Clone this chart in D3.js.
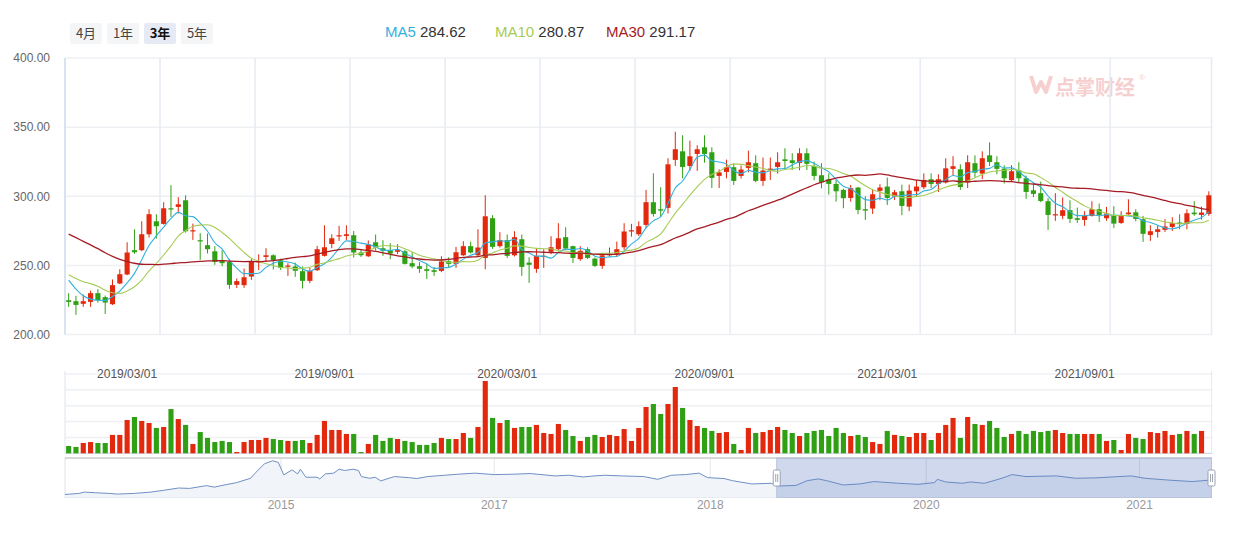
<!DOCTYPE html>
<html>
<head>
<meta charset="utf-8">
<script src="https://cdnjs.cloudflare.com/ajax/libs/d3/7.8.5/d3.min.js"></script>
<style>
body {margin: 0; background: #fff;}
svg {display: block; font-family: "Liberation Sans", "Noto Sans CJK SC", sans-serif;}
</style>
</head>
<body>
<svg id="chart" width="1238" height="538"></svg>
<script>
// weekly candles (one entry per week, oldest first)
const opens = [
  224.8,224.1,222.2,223.6,229.9,227.0,221.9,236.9,243.4,261.0,
  261.0,272.5,281.9,280.0,291.3,292.3,297.1,274.7,268.2,264.6,
  260.2,253.7,252.5,235.9,235.7,241.9,252.3,256.1,257.3,253.7,
  249.2,249.2,245.8,238.8,246.5,256.9,265.5,271.1,271.3,271.8,
  259.3,256.6,266.7,262.4,261.0,259.8,260.2,251.6,249.4,247.2,
  246.5,246.0,253.0,251.1,257.3,263.9,257.3,255.4,284.1,263.9,
  268.2,257.3,268.9,252.0,247.5,256.6,259.8,261.7,270.4,263.9,
  254.5,261.7,254.9,249.6,257.3,258.3,263.1,274.5,272.5,279.3,
  295.7,290.6,291.6,326.3,332.5,321.9,330.6,335.4,331.8,314.7,
  317.6,321.0,314.7,320.5,323.9,311.1,319.0,321.2,326.7,326.0,
  324.1,331.1,321.9,315.2,312.3,308.9,304.6,298.8,306.3,290.6,
  291.1,303.9,307.0,299.8,303.6,292.5,303.6,306.5,312.3,308.9,
  309.9,319.8,319.5,309.9,323.9,316.4,329.6,324.6,320.0,311.6,
  318.8,313.0,304.3,302.2,296.4,286.5,285.8,289.9,284.1,282.9,
  285.8,290.6,284.1,286.5,280.7,287.0,288.4,283.4,272.0,274.2,
  275.7,277.8,281.0,280.0,288.2,286.5,287.2
];
const closes = [
  223.6,221.4,224.1,229.9,224.8,223.1,235.7,243.6,259.3,259.5,
  272.5,287.0,278.3,291.3,290.8,294.2,274.7,275.4,267.5,261.7,
  252.5,251.6,235.9,238.6,241.4,252.5,253.0,257.3,253.7,248.2,
  249.9,246.1,238.8,246.0,261.7,263.1,269.6,271.8,272.5,259.3,
  257.3,265.1,262.9,260.5,258.6,261.0,251.1,249.2,247.5,246.0,
  245.3,252.8,251.1,259.5,263.9,259.3,262.9,285.5,263.4,268.2,
  256.9,270.4,248.9,250.4,256.9,256.9,263.1,269.6,262.2,255.4,
  260.5,255.4,249.6,257.3,258.1,261.7,274.5,275.4,278.3,295.7,
  287.2,289.6,323.1,334.0,321.2,328.9,334.0,330.6,313.3,317.3,
  321.0,311.1,319.3,324.6,311.1,318.6,320.0,324.6,325.5,324.1,
  331.1,323.4,314.7,310.1,308.9,303.6,298.6,305.8,290.1,289.6,
  301.4,306.3,298.8,302.9,293.0,304.1,307.0,311.8,308.9,312.3,
  320.2,321.7,306.7,324.6,317.1,327.5,324.8,319.8,313.0,318.1,
  313.0,303.1,301.7,296.6,286.5,287.0,289.9,283.6,282.9,286.0,
  290.6,286.5,287.5,280.2,286.0,288.2,283.6,272.8,274.7,276.1,
  278.1,280.5,280.0,287.7,287.0,288.2,300.7
];
const highs = [
  229.9,228.0,228.9,231.8,232.8,228.2,239.8,247.2,266.7,276.1,
  281.9,290.6,287.0,295.7,308.0,299.3,300.7,280.2,273.3,273.0,
  263.9,261.0,254.7,240.5,247.7,254.5,258.0,262.4,258.0,254.9,
  251.6,252.0,249.2,248.2,264.1,279.0,272.5,278.6,279.0,274.9,
  261.9,268.0,272.3,268.2,266.0,265.3,261.2,259.5,252.3,251.3,
  248.9,256.6,255.9,263.4,267.5,267.2,276.1,300.7,286.3,274.0,
  272.3,274.7,272.3,255.9,261.9,261.7,271.1,280.5,277.6,264.3,
  263.9,263.1,255.7,258.6,262.9,267.2,280.5,280.0,281.9,304.6,
  316.6,306.5,327.5,346.7,344.1,340.2,336.9,344.1,335.4,319.5,
  326.5,323.6,322.2,333.0,329.6,328.0,328.0,331.8,334.7,331.1,
  334.7,334.7,325.1,323.9,316.6,311.6,305.5,308.2,306.7,300.0,
  305.1,308.7,313.5,304.6,308.4,308.4,311.8,316.6,316.6,315.9,
  327.5,329.0,323.1,329.6,329.6,332.5,339.0,328.9,322.4,322.4,
  324.6,314.9,310.1,310.6,298.6,302.2,299.1,297.1,291.8,289.2,
  296.4,294.7,292.3,292.8,289.2,297.8,290.6,285.8,279.0,279.0,
  283.4,284.8,287.0,290.6,296.4,292.5,303.6
];
const lows = [
  220.0,214.2,220.0,220.0,223.1,214.9,221.4,236.4,242.9,258.3,
  260.2,270.1,269.4,279.5,285.0,287.5,273.7,268.4,254.0,258.6,
  250.4,249.4,233.0,233.7,233.7,239.5,246.5,252.5,247.0,246.7,
  242.4,241.7,233.3,237.1,246.0,256.4,262.4,267.7,268.4,255.7,
  256.1,256.1,260.7,256.9,254.5,258.1,250.6,248.0,244.6,240.2,
  242.4,245.1,248.2,248.2,256.9,258.6,256.6,247.2,261.9,262.9,
  255.4,256.4,242.4,237.3,244.6,248.2,258.1,260.7,261.2,251.8,
  253.3,254.5,248.9,247.5,256.4,256.1,261.2,270.8,271.3,276.9,
  285.3,285.0,287.5,321.9,313.0,318.3,318.3,324.3,306.0,306.0,
  313.0,308.2,312.8,317.3,310.1,307.5,311.8,316.4,320.2,319.0,
  318.8,319.0,311.6,305.8,301.2,296.1,291.3,296.1,287.0,282.9,
  287.2,297.1,293.7,297.3,286.3,289.2,299.8,305.1,306.0,303.1,
  309.2,314.9,304.6,306.0,313.7,312.3,321.9,315.9,309.2,310.8,
  309.6,298.1,299.3,295.7,275.7,282.2,283.4,280.7,280.7,278.6,
  285.3,281.4,282.2,277.1,280.0,286.5,281.9,267.0,267.7,270.1,
  274.2,274.9,276.1,276.1,285.8,283.1,285.8
];
// volume in axis units (the volume pane has no labels)
const volumes = [
  0.46,0.40,0.65,0.71,0.65,0.65,1.16,1.16,2.10,2.29,
  2.04,1.91,1.60,1.66,2.79,2.16,1.79,0.59,1.34,0.97,
  0.71,0.78,0.71,0.08,0.71,0.84,0.84,0.97,0.90,0.84,
  0.78,0.78,0.84,0.65,1.16,2.04,1.47,1.47,1.22,1.22,
  0.08,0.59,1.16,0.78,0.97,0.90,0.78,0.71,0.53,0.53,
  0.65,0.97,0.90,0.90,1.28,0.97,1.66,4.56,2.23,1.91,
  2.10,1.60,1.66,1.66,1.79,1.28,1.22,1.85,1.47,1.09,
  0.78,1.03,1.16,1.03,1.16,1.09,1.53,0.78,1.60,2.92,
  3.11,2.48,3.11,4.18,2.86,2.10,1.72,1.60,1.41,1.28,
  1.34,0.59,0.21,1.60,1.28,1.34,1.47,1.66,1.47,1.28,
  1.09,1.28,1.41,1.47,1.09,1.60,1.28,1.09,1.16,1.03,
  0.71,0.59,1.41,1.16,1.09,1.03,1.28,1.28,0.84,1.28,
  1.79,2.23,0.97,2.29,1.85,1.79,2.04,1.60,1.03,1.22,
  1.41,1.22,1.41,1.34,1.41,1.47,1.28,1.22,1.22,1.22,
  1.22,1.22,0.78,0.84,0.21,1.22,0.97,0.90,1.34,1.28,
  1.41,1.16,1.22,1.41,1.22,1.41,0
];
// closes of the 29 weeks before the window, estimated so the MA lines start where they do
const preCloses = [
  298,303,308,306,312,314,309,304,299,294,
  289,284,282,279,276,269,262,256,252,249,
  249,247,244,244,252,254,248,242,229
];

const dateLabels = ['2019/03/01', '2019/09/01', '2020/03/01', '2020/09/01', '2021/03/01', '2021/09/01'];
const dateLabelWeeks = [8, 35, 60, 87, 112, 139];
const priceTicks = [200, 250, 300, 350, 400];

const maNames = ['MA5', 'MA10', 'MA30'];
const maPeriods = [5, 10, 30];
const maLegendValues = ['284.62', '280.87', '291.17'];
const maColors = ['#33b1dc', '#a6cb55', '#a51c24'];

const rangeButtons = ['4月', '1年', '3年', '5年'];
const activeButton = '3年';

// overview (dataZoom) shadow over the whole history, [week, value]
const navWeeks = [0,5,7,11,16,19,25,31,36,41,45,51,54,58,62,67,69,72,75,77,79,82,84,85,87,91,92,94,97,99,
  101,104,106,107,110,112,114,117,119,124,127,131,137,142,148,155,162,168,177,182,187,191,195,201,209,214,219,224,229,232,
  238,241,248,255,258,264,268,272,275,281,287,292,301,308,314,315,318,324,327,332,338,342,347,358,365,372,385,390,398,407,414];
const navValues = [123,131,141,136,131,126,131,141,156,172,169,190,179,197,213,246,292,356,379,367,272,310,279,315,254,254,241,279,285,315,
  305,315,305,259,246,254,226,246,259,251,244,259,269,277,285,274,277,282,264,269,256,264,269,264,259,238,269,274,285,251,
  244,228,203,208,187,192,228,241,228,195,203,221,208,200,213,238,218,208,218,208,244,274,259,264,246,249,264,246,233,221,233];
const navTotalWeeks = 414;
const navWindowStart = 257;
const navLabels = ['2015', '2017', '2018', '2020', '2021'];
const navLabelWeeks = [78, 155, 233, 311, 388];

const UP = '#e2280d';
const DOWN = '#2fa014';
const N = closes.length;
const PLOT = {left: 65, right: 1212.5, top: 58, bottom: 334.5};
const VOL = {top: 374, bottom: 453.3};
const NAV = {top: 458, bottom: 497.5};

const svg = d3.select('#chart');

const x = d3.scaleBand().domain(d3.range(N)).range([PLOT.left, PLOT.right]).paddingInner(0.3).paddingOuter(0.15);
const y = d3.scaleLinear().domain([200, 400]).range([PLOT.bottom, PLOT.top]);
const vy = d3.scaleLinear().domain([0, 5]).range([VOL.bottom, VOL.top]);
const cx = i => x(i) + x.bandwidth() / 2;
const step = x.step();

// buttons
const btn = svg.append('g').selectAll('g').data(rangeButtons).enter().append('g')
  .attr('transform', (d, i) => `translate(${70 + i * 37}, 23)`);
btn.append('rect').attr('width', 32).attr('height', 21).attr('rx', 2)
  .attr('fill', d => d === activeButton ? '#e5eaf4' : '#f4f5f7');
btn.append('text').text(d => d).attr('x', 16).attr('y', 15)
  .attr('text-anchor', 'middle').attr('font-size', 13)
  .attr('font-family', '"Noto Sans CJK SC", sans-serif')
  .attr('font-weight', d => d === activeButton ? 'bold' : 'normal')
  .attr('fill', d => d === activeButton ? '#111' : '#444');

// legend
const legendX = [385, 495, 606];
const legend = svg.append('g').selectAll('text').data(maNames).enter().append('text')
  .attr('x', (d, i) => legendX[i]).attr('y', 37).attr('font-size', 15);
legend.append('tspan').text(d => d).attr('fill', (d, i) => maColors[i]);
legend.append('tspan').text((d, i) => ' ' + maLegendValues[i]).attr('fill', '#333');

// watermark
const wm = svg.append('g').attr('fill', '#f6cfcf');
wm.append('path').attr('d', 'M1031,76 l5,16 l5,-10 l5,10 l5,-16').attr('fill', 'none')
  .attr('stroke', '#f6cfcf').attr('stroke-width', 4).attr('stroke-linejoin', 'round');
wm.append('text').text('点掌财经').attr('x', 1055).attr('y', 95)
  .attr('font-size', 20).attr('font-weight', 'bold')
  .attr('font-family', '"Noto Sans CJK SC", sans-serif');
wm.append('text').text('®').attr('x', 1139).attr('y', 80).attr('font-size', 8);

// main grid
const grid = svg.append('g');
grid.selectAll('.hline').data(priceTicks).enter().append('line')
  .attr('x1', PLOT.left).attr('x2', PLOT.right)
  .attr('y1', d => y(d)).attr('y2', d => y(d))
  .attr('stroke', '#eef0f4').attr('stroke-width', 1.5);
const splitX = d3.range(0, N - 13, 13).map(i => PLOT.left + i * step).concat([PLOT.right - 1]);
grid.selectAll('.vline').data(splitX).enter().append('line')
  .attr('x1', d => d).attr('x2', d => d)
  .attr('y1', PLOT.top).attr('y2', PLOT.bottom)
  .attr('stroke', '#e6ebf2').attr('stroke-width', 1.5);
grid.append('line').attr('x1', PLOT.left).attr('x2', PLOT.left)
  .attr('y1', PLOT.top).attr('y2', PLOT.bottom).attr('stroke', '#c7d5ec');

svg.append('g')
  .attr('transform', `translate(${PLOT.left}, 0)`)
  .call(d3.axisLeft(y).tickValues(priceTicks).tickFormat(d3.format('.2f')).tickSize(0).tickPadding(15))
  .call(g => g.select('.domain').remove())
  .call(g => g.selectAll('text').attr('fill', '#666').attr('font-size', 12)
    .attr('font-family', '"Liberation Sans", sans-serif'));

// candles
const candles = d3.range(N).map(i => ({i, o: opens[i], c: closes[i], h: highs[i], l: lows[i], v: volumes[i]}));
const colorOf = d => d.c >= d.o ? UP : DOWN;

const cg = svg.append('g');
cg.selectAll('.wick').data(candles).enter().append('line')
  .attr('x1', d => cx(d.i)).attr('x2', d => cx(d.i))
  .attr('y1', d => y(d.h)).attr('y2', d => y(d.l))
  .attr('stroke', colorOf).attr('stroke-width', 1);
cg.selectAll('.body').data(candles).enter().append('rect')
  .attr('x', d => x(d.i)).attr('width', x.bandwidth())
  .attr('y', d => y(Math.max(d.o, d.c)))
  .attr('height', d => Math.max(1.2, Math.abs(y(d.o) - y(d.c))))
  .attr('fill', colorOf);

// moving averages
const allCloses = preCloses.concat(closes);
const P = preCloses.length;
const ma = n => closes.map((c, i) => d3.mean(allCloses.slice(i + P - n + 1, i + P + 1)));
const maLine = d3.line().x((d, i) => cx(i)).y(d => y(d)).curve(d3.curveMonotoneX);
svg.append('g').selectAll('path').data(maPeriods.map(ma)).enter().append('path')
  .attr('d', maLine).attr('fill', 'none')
  .attr('stroke', (d, i) => maColors[i]).attr('stroke-width', (d, i) => i === 2 ? 1.3 : 1.1);

// volume pane
const vg = svg.append('g');
vg.selectAll('line').data([1, 2, 3, 4, 5]).enter().append('line')
  .attr('x1', PLOT.left).attr('x2', PLOT.right)
  .attr('y1', d => vy(d)).attr('y2', d => vy(d))
  .attr('stroke', '#eef0f4').attr('stroke-width', 1.5);
vg.append('line').attr('x1', PLOT.left).attr('x2', PLOT.right)
  .attr('y1', vy(0)).attr('y2', vy(0)).attr('stroke', '#c9d2e0');
vg.append('line').attr('x1', PLOT.left).attr('x2', PLOT.left)
  .attr('y1', VOL.top - 3).attr('y2', VOL.bottom).attr('stroke', '#dde4ef');
vg.append('line').attr('x1', PLOT.right - 1).attr('x2', PLOT.right - 1)
  .attr('y1', VOL.top - 3).attr('y2', VOL.bottom).attr('stroke', '#e6ebf2');
vg.selectAll('rect').data(candles).enter().append('rect')
  .attr('x', d => x(d.i)).attr('width', x.bandwidth())
  .attr('y', d => vy(d.v)).attr('height', d => vy(0) - vy(d.v))
  .attr('fill', colorOf);
vg.selectAll('text').data(dateLabels).enter().append('text')
  .text(d => d).attr('x', (d, i) => cx(dateLabelWeeks[i])).attr('y', 378)
  .attr('text-anchor', 'middle').attr('font-size', 12).attr('fill', '#555');

// overview slider
const sx = d3.scaleLinear().domain([0, navTotalWeeks]).range([PLOT.left, PLOT.right - 1]);
const sy = d3.scaleLinear().domain([100, 400]).range([NAV.bottom, NAV.top]);
const ng = svg.append('g');
ng.append('rect').attr('x', PLOT.left).attr('y', NAV.top)
  .attr('width', PLOT.right - 1 - PLOT.left).attr('height', NAV.bottom - NAV.top)
  .attr('fill', '#fff').attr('stroke', '#dfe3ea');
ng.selectAll('.navgrid').data(navLabelWeeks).enter().append('line')
  .attr('x1', d => sx(d)).attr('x2', d => sx(d))
  .attr('y1', NAV.top).attr('y2', NAV.bottom).attr('stroke', '#e3e6eb');
const navData = navWeeks.map((w, i) => [w, navValues[i]]);
ng.append('path').datum(navData)
  .attr('d', d3.area().x(d => sx(d[0])).y0(NAV.bottom).y1(d => sy(d[1])))
  .attr('fill', '#f1f4f9');
ng.append('path').datum(navData)
  .attr('d', d3.line().x(d => sx(d[0])).y(d => sy(d[1])))
  .attr('fill', 'none').attr('stroke', '#6f90c4').attr('stroke-width', 1);
ng.append('line').attr('x1', PLOT.left).attr('x2', PLOT.right - 1)
  .attr('y1', NAV.top).attr('y2', NAV.top).attr('stroke', '#cfcfcf').attr('stroke-width', 1.5);
ng.append('rect').attr('x', sx(navWindowStart)).attr('y', NAV.top)
  .attr('width', sx(navTotalWeeks) - sx(navWindowStart)).attr('height', NAV.bottom - NAV.top)
  .attr('fill', 'rgba(95,125,195,0.3)').attr('stroke', '#b9c4da');
const handles = ng.selectAll('.handle').data([navWindowStart, navTotalWeeks]).enter().append('g')
  .attr('transform', d => `translate(${sx(d)}, 0)`);
handles.append('rect').attr('x', -3.5).attr('y', 470).attr('width', 7).attr('height', 16).attr('rx', 1.5)
  .attr('fill', '#fff').attr('stroke', '#9aa3b3');
handles.selectAll('line').data([-1, 1]).enter().append('line')
  .attr('x1', d => d).attr('x2', d => d).attr('y1', 474).attr('y2', 482)
  .attr('stroke', '#8a8f99').attr('stroke-width', 0.8);
ng.selectAll('text').data(navLabels).enter().append('text')
  .text(d => d).attr('x', (d, i) => sx(navLabelWeeks[i])).attr('y', 509)
  .attr('text-anchor', 'middle').attr('font-size', 12).attr('fill', '#999');
</script>
</body>
</html>
